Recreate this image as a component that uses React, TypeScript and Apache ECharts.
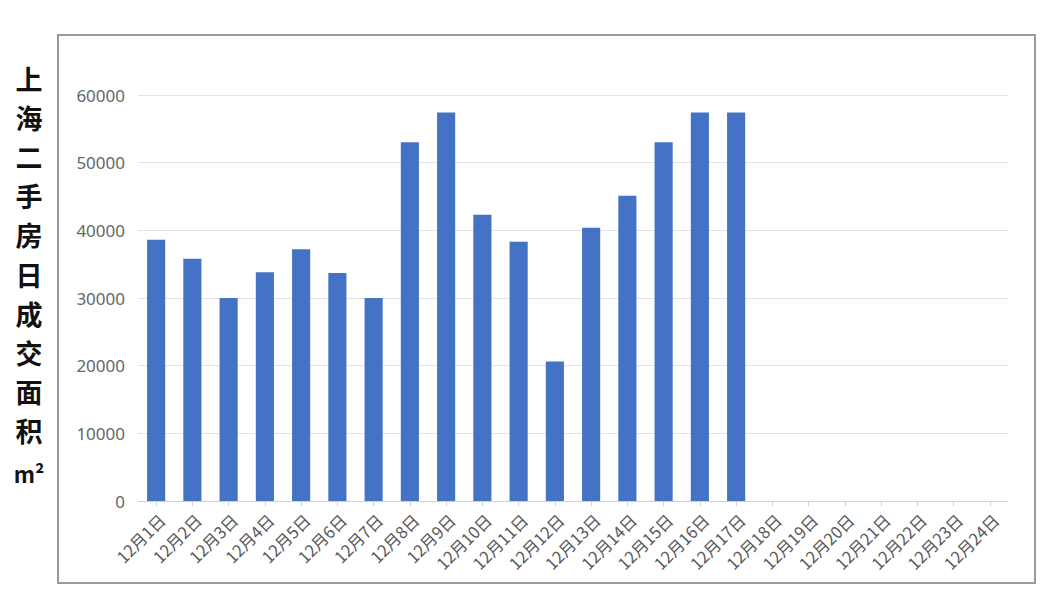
import React, { useEffect, useRef } from "react";
import * as echarts from "echarts";

const categories = [
  "12月1日", "12月2日", "12月3日", "12月4日", "12月5日", "12月6日", "12月7日", "12月8日",
  "12月9日", "12月10日", "12月11日", "12月12日", "12月13日", "12月14日", "12月15日", "12月16日",
  "12月17日", "12月18日", "12月19日", "12月20日", "12月21日", "12月22日", "12月23日", "12月24日",
];
const areaValues: (number | null)[] = [
  38600, 35800, 30000, 33800, 37200, 33700, 30000, 53000,
  57400, 42300, 38300, 20600, 40400, 45100, 53000, 57400,
  57400, null, null, null, null, null, null, null,
];
const titleChars = ["上", "海", "二", "手", "房", "日", "成", "交", "面", "积"];
const unitText = "m²";

export default function App() {
  const ref = useRef<HTMLDivElement>(null);
  useEffect(() => {
    if (!ref.current) return;
    const chart = echarts.init(ref.current, null, { renderer: "svg" });
    chart.setOption({
      animation: false,
      backgroundColor: "#ffffff",
      grid: { left: 138, right: 38, top: 95, bottom: 99, containLabel: false },
      graphic: [
        {
          type: "rect",
          shape: { x: 58, y: 35, width: 977, height: 548 },
          style: { fill: "none", stroke: "#9a9a9a", lineWidth: 2 },
        },
        ...titleChars.map((c, i) => ({
          type: "text",
          x: 29,
          y: 78 + i * 39.2,
          style: {
            text: c,
            fill: "#111111",
            font: "bold 27px 'Noto Sans CJK SC', sans-serif",
            textAlign: "center",
            textVerticalAlign: "middle",
          },
        })),
        {
          type: "text",
          x: 29,
          y: 473,
          style: {
            text: unitText,
            fill: "#111111",
            font: "bold 22px 'Noto Sans CJK SC', sans-serif",
            textAlign: "center",
            textVerticalAlign: "middle",
          },
        },
      ],
      xAxis: {
        type: "category",
        data: categories,
        axisLine: { lineStyle: { color: "#d0d0d0", width: 1 } },
        axisTick: { show: true, alignWithLabel: true, length: 5, lineStyle: { color: "#d0d0d0" } },
        axisLabel: {
          rotate: 45,
          interval: 0,
          color: "#5a5a5a",
          fontSize: 16.5,
          margin: 10,
          verticalAlign: "top",
          fontFamily: "'Noto Sans CJK SC', sans-serif",
        },
      },
      yAxis: {
        type: "value",
        min: 0,
        max: 60000,
        interval: 10000,
        axisLine: { show: false },
        axisTick: { show: false },
        splitLine: { lineStyle: { color: "#e3e3e3", width: 1 } },
        axisLabel: {
          color: "#666666",
          fontSize: 17,
          margin: 13,
          formatter: (v: number) => String(v),
          fontFamily: "'Noto Sans', sans-serif",
        },
      },
      series: [
        {
          type: "bar",
          data: areaValues,
          barWidth: "50%",
          itemStyle: { color: "#4472c4" },
        },
      ],
    });
    return () => chart.dispose();
  }, []);
  return (
    <div
      ref={ref}
      style={{ position: "fixed", left: 0, top: 0, width: 1046, height: 600 }}
    />
  );
}
